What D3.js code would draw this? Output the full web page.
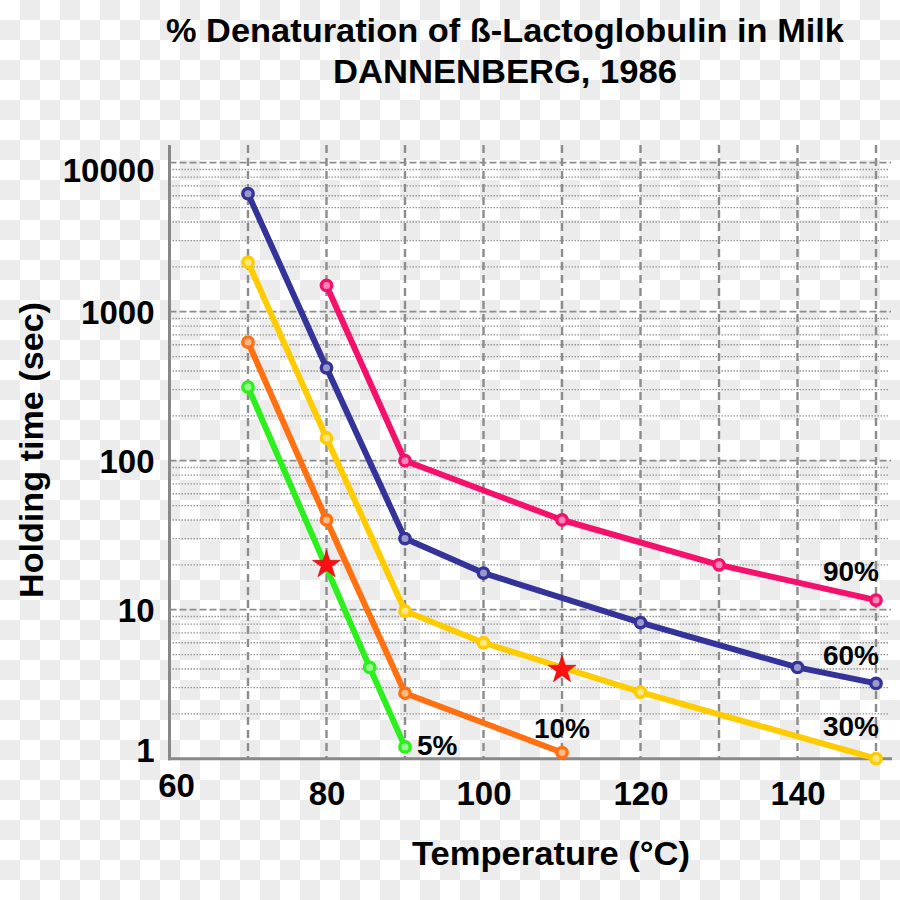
<!DOCTYPE html>
<html><head><meta charset="utf-8">
<script src="https://cdn.jsdelivr.net/npm/d3@7"></script>
<style>html,body{margin:0;padding:0;background:#fff}svg{display:block}</style>
</head><body>
<svg id="chart" width="900" height="900"></svg>
<script>
// ---- data ----
const titleLines = ["% Denaturation of ß-Lactoglobulin in Milk", "DANNENBERG, 1986"];
const xLabel = "Temperature (°C)";
const yLabel = "Holding time (sec)";
const xTicks = [60, 80, 100, 120, 140];
const yTicks = [1, 10, 100, 1000, 10000];
const xGrid = [70, 80, 90, 100, 110, 120, 130, 140, 150];

const seriesNames = ["90%", "60%", "30%", "10%", "5%"];
const temp90 = [80, 90, 110, 130, 150];
const time90 = [1500, 100, 40, 20, 11.6];
const temp60 = [70, 80, 90, 100, 120, 140, 150];
const time60 = [6200, 420, 30, 17.6, 8.2, 4.1, 3.2];
const temp30 = [70, 80, 90, 100, 120, 150];
const time30 = [2150, 142, 9.8, 6, 2.8, 1.0];
const temp10 = [70, 80, 90, 110];
const time10 = [625, 40, 2.75, 1.1];
const temp5 = [70, 85.5, 90];
const time5 = [312, 4.1, 1.2];
const starTemp = [80, 110];
const starTime = [20, 3.95];

// ---- build ----
const svg = d3.select("#chart");
const FONT = "'Liberation Sans', Arial, Helvetica, sans-serif";

// checkerboard background
const defs = svg.append("defs");
const pat = defs.append("pattern").attr("id", "checker").attr("width", 40).attr("height", 40).attr("patternUnits", "userSpaceOnUse");
pat.append("rect").attr("width", 40).attr("height", 40).attr("fill", "#ffffff");
pat.append("rect").attr("x", 20).attr("y", 0).attr("width", 20).attr("height", 20).attr("fill", "#ececec");
pat.append("rect").attr("x", 0).attr("y", 20).attr("width", 20).attr("height", 20).attr("fill", "#ececec");
svg.append("rect").attr("width", 900).attr("height", 900).attr("fill", "url(#checker)");

const x = d3.scaleLinear().domain([60, 150]).range([169.5, 876]);
const y = d3.scaleLog().domain([1, 10000]).range([758.7, 162.7]);

const gridColor = "#8c8c8c";

// minor horizontal dotted gridlines
const minor = [];
[1, 10, 100, 1000].forEach(d => { for (let k = 2; k <= 9; k++) minor.push(d * k); });
svg.append("g").selectAll("line").data(minor).join("line")
  .attr("x1", x(60)).attr("x2", 888)
  .attr("y1", d => y(d)).attr("y2", d => y(d))
  .attr("stroke", "#959595").attr("stroke-width", 1.3).attr("stroke-dasharray", "1.5,1.5");

// major horizontal dashed gridlines
svg.append("g").selectAll("line").data(yTicks.slice(1)).join("line")
  .attr("x1", x(60)).attr("x2", 891)
  .attr("y1", d => y(d)).attr("y2", d => y(d))
  .attr("stroke", gridColor).attr("stroke-width", 1.8).attr("stroke-dasharray", "7,3");

// vertical dashed gridlines
svg.append("g").selectAll("line").data(xGrid).join("line")
  .attr("x1", d => x(d)).attr("x2", d => x(d))
  .attr("y1", 145).attr("y2", y(1))
  .attr("stroke", gridColor).attr("stroke-width", 2.4).attr("stroke-dasharray", "8,5");

// axes lines
svg.append("line").attr("x1", x(60)).attr("x2", x(60)).attr("y1", 145).attr("y2", y(1) + 1.5)
  .attr("stroke", "#888").attr("stroke-width", 3);
svg.append("line").attr("x1", x(60) - 1.5).attr("x2", 892).attr("y1", y(1)).attr("y2", y(1))
  .attr("stroke", "#888").attr("stroke-width", 3);

// tick labels via d3 axes
const xAxis = svg.append("g").attr("transform", `translate(0,${y(1)})`)
  .call(d3.axisBottom(x).tickValues(xTicks).tickSize(0).tickPadding(0).tickFormat(d3.format("d")));
xAxis.select(".domain").remove();
xAxis.selectAll("text").attr("font-family", FONT).attr("font-weight", "bold").attr("font-size", 33)
  .attr("fill", "#000").attr("dy", null).attr("y", 46.5);
xAxis.selectAll(".tick").filter(d => d === 60).select("text").attr("x", 6.5).attr("y", 38.5);

const yAxis = svg.append("g").attr("transform", `translate(${x(60)},0)`)
  .call(d3.axisLeft(y).tickValues(yTicks).tickSize(0).tickPadding(15).tickFormat(d3.format("d")));
yAxis.select(".domain").remove();
yAxis.selectAll("text").attr("font-family", FONT).attr("font-weight", "bold").attr("font-size", 33)
  .attr("fill", "#000").attr("dy", "0.36em");
yAxis.selectAll(".tick").filter(d => d === 10000).select("text").attr("y", 7);
yAxis.selectAll(".tick").filter(d => d === 1).select("text").attr("y", -9);

// series
const series = [
  { name: seriesNames[0], t: temp90, v: time90, color: "#f5106c" },
  { name: seriesNames[1], t: temp60, v: time60, color: "#333399" },
  { name: seriesNames[2], t: temp30, v: time30, color: "#ffcc00" },
  { name: seriesNames[3], t: temp10, v: time10, color: "#ff7010" },
  { name: seriesNames[4], t: temp5, v: time5, color: "#2cf01c" }
];
const line = d3.line().x(d => x(d[0])).y(d => y(d[1]));
const sg = svg.append("g");
series.slice().reverse().forEach(s => {
  const pts = s.t.map((t, i) => [t, s.v[i]]);
  const g = sg.append("g");
  g.append("path").attr("d", line(pts)).attr("fill", "none").attr("stroke", s.color)
    .attr("stroke-width", 6).attr("stroke-linejoin", "round").attr("stroke-linecap", "round");
  g.selectAll("circle").data(pts).join("circle")
    .attr("cx", d => x(d[0])).attr("cy", d => y(d[1])).attr("r", 5.2)
    .attr("fill", d3.interpolateRgb(s.color, "#ffffff")(0.5)).attr("stroke", s.color).attr("stroke-width", 3.4);
});

// stars
const starPts = starTemp.map((t, i) => [t, starTime[i]]);
svg.append("g").selectAll("path").data(starPts).join("path")
  .attr("transform", d => `translate(${x(d[0])},${y(d[1])})`)
  .attr("d", d3.symbol(d3.symbolStar, 240)())
  .attr("fill", "#ff1010").attr("stroke", "#d00000").attr("stroke-width", 0.6);

// series labels (anchored to last data points)
const lbl = svg.append("g").attr("font-family", FONT).attr("font-weight", "bold").attr("font-size", 28).attr("fill", "#000");
lbl.append("text").attr("x", x(150) + 3).attr("y", y(time90[4]) - 19).attr("text-anchor", "end").text(seriesNames[0]);
lbl.append("text").attr("x", x(150) + 3).attr("y", y(time60[6]) - 18).attr("text-anchor", "end").text(seriesNames[1]);
lbl.append("text").attr("x", x(150) + 3).attr("y", y(time30[5]) - 23).attr("text-anchor", "end").text(seriesNames[2]);
lbl.append("text").attr("x", x(110)).attr("y", y(time10[3]) - 15).attr("text-anchor", "middle").text(seriesNames[3]);
lbl.append("text").attr("x", x(90) + 12).attr("y", y(time5[2]) + 8).attr("text-anchor", "start").text(seriesNames[4]);

// titles
const tg = svg.append("g").attr("font-family", FONT).attr("font-weight", "bold").attr("fill", "#000").attr("text-anchor", "middle");
tg.append("text").attr("x", 505).attr("y", 42).attr("font-size", 34).attr("textLength", 678).attr("lengthAdjust", "spacingAndGlyphs").text(titleLines[0]);
tg.append("text").attr("x", 505).attr("y", 83).attr("font-size", 34).attr("textLength", 344).attr("lengthAdjust", "spacingAndGlyphs").text(titleLines[1]);
tg.append("text").attr("x", 551).attr("y", 865).attr("font-size", 34).attr("textLength", 278).attr("lengthAdjust", "spacingAndGlyphs").text(xLabel);
tg.append("text").attr("transform", "translate(43,450) rotate(-90)").attr("font-size", 34).attr("textLength", 296).attr("lengthAdjust", "spacingAndGlyphs").text(yLabel);
</script>
</body></html>
